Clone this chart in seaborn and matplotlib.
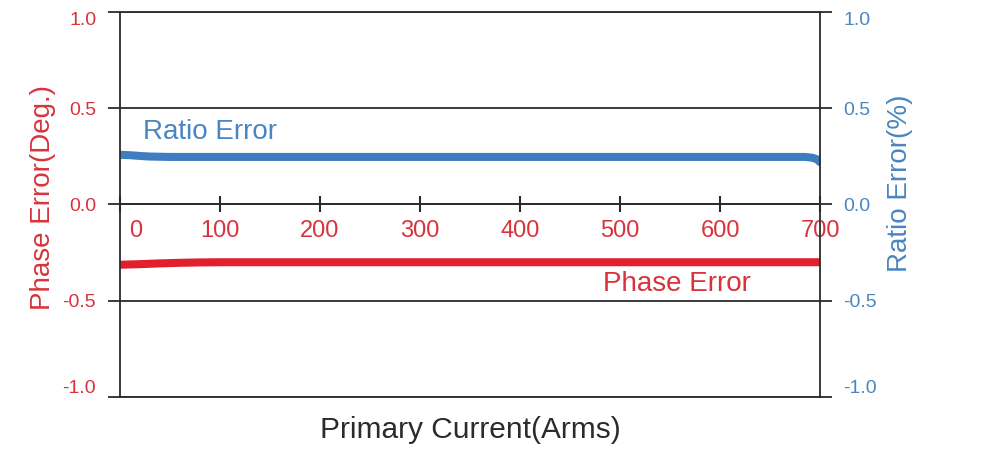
import matplotlib
matplotlib.use("Agg")
import matplotlib.pyplot as plt
import matplotlib.transforms as mtransforms
import seaborn as sns

# -----------------------------
# Data
# -----------------------------
current_ratio = [0, 10, 20, 30, 50, 100, 200, 300, 400, 500, 600, 685, 692, 697, 700]
ratio_err = [0.258, 0.256, 0.252, 0.249, 0.247, 0.247, 0.247, 0.247, 0.247,
             0.247, 0.247, 0.247, 0.243, 0.235, 0.22]

current_phase = [0, 20, 40, 60, 80, 100, 200, 300, 400, 500, 600, 700]
phase_err = [-0.313, -0.310, -0.306, -0.303, -0.301, -0.300, -0.300,
             -0.300, -0.300, -0.300, -0.300, -0.300]

x_ticks = [0, 100, 200, 300, 400, 500, 600, 700]
y_ticks = [-1.0, -0.5, 0.0, 0.5, 1.0]
y_ticklabels = ["-1.0", "-0.5", "0.0", "0.5", "1.0"]

RED = "#e2202b"
RED_TXT = "#d8333c"
BLUE = "#3f7dc1"
BLUE_TXT = "#4a86c1"
DARK = "#2b2b2b"

sns.set_style("white")
plt.rcParams["font.family"] = ["Liberation Sans", "DejaVu Sans"]

fig = plt.figure(figsize=(10.07, 4.5), dpi=100)
ax = fig.add_axes([0.1192, 0.1178, 0.6951, 0.8556])

sns.lineplot(x=current_phase, y=phase_err, ax=ax, color=RED, linewidth=5.8,
             solid_capstyle="butt")

ax2 = ax.twinx()
sns.lineplot(x=current_ratio, y=ratio_err, ax=ax2, color=BLUE, linewidth=5.8,
             solid_capstyle="round")

for a in (ax, ax2):
    a.set_xlim(0, 700)
    a.set_ylim(-1.0, 1.0)
    a.set_yticks(y_ticks)
    a.set_yticklabels(y_ticklabels)

# horizontal rules across the plot (gridlines + outward tick stubs)
ax.grid(axis="y", color=DARK, linewidth=1.3)
ax.grid(axis="x", visible=False)
ax2.grid(False)
ax.set_axisbelow(False)

ax.tick_params(axis="y", length=8.6, width=1.3, color=DARK, pad=8.6,
               labelsize=14, labelcolor=RED_TXT, left=True)
ax2.tick_params(axis="y", length=8.6, width=1.3, color=DARK, pad=8,
                labelsize=14, labelcolor=BLUE_TXT, right=True)

# outer value labels sit inside the frame, as in the original
for a in (ax, ax2):
    labels = a.get_yticklabels()
    labels[0].set_verticalalignment("bottom")
    labels[-1].set_verticalalignment("top")

# x axis sits on the zero line
for side in ("top", "left", "right"):
    ax.spines[side].set_visible(False)
ax.spines["bottom"].set_position(("data", 0))
ax.spines["bottom"].set_color(DARK)
ax.spines["bottom"].set_linewidth(1.3)
for side in ("top", "bottom", "left", "right"):
    ax2.spines[side].set_color(DARK)
    ax2.spines[side].set_linewidth(1.3)

ax.set_xticks(x_ticks)
ax.set_xticklabels([str(v) for v in x_ticks])
ax.tick_params(axis="x", direction="inout", length=12, width=1.5, color=DARK,
               pad=5, labelsize=17, labelcolor=RED_TXT, bottom=True)
zero_lbl = ax.get_xticklabels()[0]
zero_lbl.set_horizontalalignment("left")
zero_lbl.set_transform(zero_lbl.get_transform()
                       + mtransforms.ScaledTranslation(0.09, 0, fig.dpi_scale_trans))

ax.set_xlabel("Primary Current(Arms)", fontsize=21.5, color=DARK)
ax.xaxis.label.set_va("center")
ax.xaxis.set_label_coords(0.5, -0.086)

ax.set_ylabel("Phase Error(Deg.)", fontsize=20, color=RED_TXT)
ax.yaxis.set_label_coords(-0.091, 0.517)
ax2.set_ylabel("Ratio Error(%)", fontsize=20, color=BLUE_TXT)
ax2.yaxis.set_label_coords(1.0957, 0.556)

ax.text(23, 0.377, "Ratio Error", color=BLUE_TXT, fontsize=20,
        ha="left", va="center")
ax.text(483, -0.413, "Phase Error", color=RED_TXT, fontsize=20,
        ha="left", va="center")

fig.savefig("out.png", dpi=100)
plt.close(fig)
